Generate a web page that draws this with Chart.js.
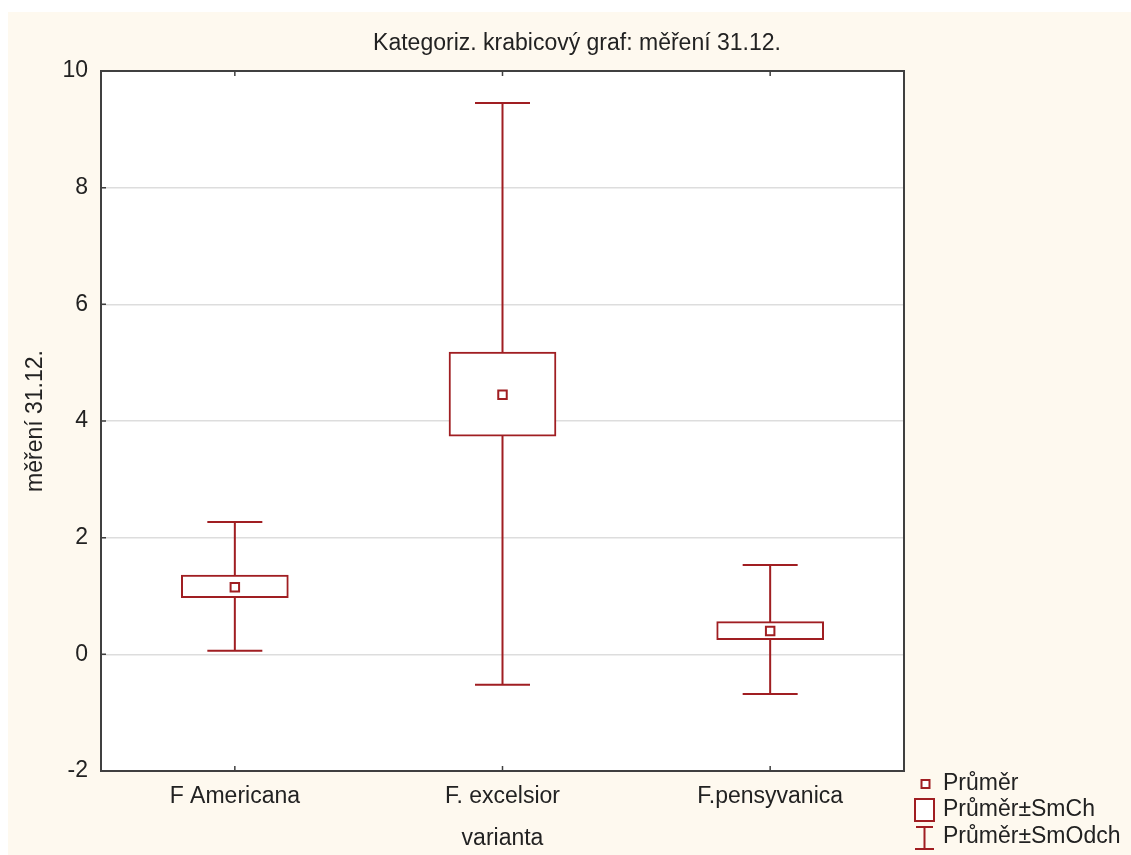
<!DOCTYPE html>
<html><head><meta charset="utf-8">
<script src="https://cdn.jsdelivr.net/npm/chart.js@4/dist/chart.umd.min.js"></script>
<style>html,body{margin:0;padding:0;background:#fff;}#wrap{width:1131px;height:855px;}</style>
</head><body><div id="wrap"><canvas id="c" width="1131" height="855"></canvas></div>
<script>
const categories = ['F Americana', 'F. excelsior', 'F.pensyvanica'];
const means = [1.15, 4.45, 0.40];
const boxLow = [0.97, 3.74, 0.25];
const boxHigh = [1.36, 5.18, 0.56];
const whiskerLow = [0.06, -0.52, -0.68];
const whiskerHigh = [2.27, 9.45, 1.53];
const yMin = -2, yMax = 10, yStep = 2;
const titleText = 'Kategoriz. krabicový graf: měření 31.12.';
const xTitle = 'varianta';
const yTitle = 'měření 31.12.';
const legendLabels = ['Průměr', 'Průměr±SmCh', 'Průměr±SmOdch'];

const RED = '#a01e22';
const TXT = '#222222';
const FONT = "'Liberation Sans', Arial, sans-serif";

const deco = {
  id: 'deco',
  beforeDraw(chart) {
    const ctx = chart.ctx, a = chart.chartArea;
    ctx.save();
    ctx.fillStyle = '#ffffff';
    ctx.fillRect(0, 0, chart.width, chart.height);
    ctx.fillStyle = '#fef9ef';
    ctx.fillRect(8, 12, chart.width - 8, chart.height - 12);
    ctx.fillStyle = '#ffffff';
    ctx.fillRect(a.left, a.top, a.right - a.left, a.bottom - a.top);
    ctx.restore();
  },
  beforeDatasetsDraw(chart) {
    const ctx = chart.ctx, xs = chart.scales.x, ys = chart.scales.y;
    ctx.save();
    ctx.strokeStyle = RED;
    ctx.lineWidth = 2;
    categories.forEach((c, i) => {
      const x = xs.getPixelForValue(i);
      const yt = ys.getPixelForValue(whiskerHigh[i]);
      const yb = ys.getPixelForValue(whiskerLow[i]);
      ctx.beginPath();
      ctx.moveTo(x, yt); ctx.lineTo(x, yb);
      ctx.moveTo(x - 27.5, yt); ctx.lineTo(x + 27.5, yt);
      ctx.moveTo(x - 27.5, yb); ctx.lineTo(x + 27.5, yb);
      ctx.stroke();
    });
    ctx.restore();
  },
  afterDraw(chart) {
    const ctx = chart.ctx, a = chart.chartArea, xs = chart.scales.x, ys = chart.scales.y;
    ctx.save();
    // frame
    ctx.strokeStyle = '#404040';
    ctx.lineWidth = 2;
    ctx.strokeRect(a.left, a.top, a.right - a.left, a.bottom - a.top);
    // inward ticks
    ctx.lineWidth = 1.5;
    ctx.beginPath();
    for (let v = yMin; v <= yMax; v += yStep) {
      const y = ys.getPixelForValue(v);
      ctx.moveTo(a.left, y); ctx.lineTo(a.left + 5, y);
    }
    categories.forEach((c, i) => {
      const x = xs.getPixelForValue(i);
      ctx.moveTo(x, a.bottom); ctx.lineTo(x, a.bottom - 5);
      ctx.moveTo(x, a.top); ctx.lineTo(x, a.top + 5);
    });
    ctx.stroke();
    // title
    ctx.fillStyle = TXT;
    ctx.font = '23px ' + FONT;
    ctx.textAlign = 'center';
    ctx.textBaseline = 'middle';
    ctx.fillText(titleText, 577, 44);
    // legend
    ctx.textAlign = 'left';
    ctx.strokeStyle = RED;
    ctx.lineWidth = 2;
    ctx.fillStyle = '#ffffff';
    ctx.fillRect(921.5, 780, 8, 8);
    ctx.strokeRect(921.5, 780, 8, 8);
    ctx.fillRect(915, 799, 19, 22);
    ctx.strokeRect(915, 799, 19, 22);
    ctx.beginPath();
    ctx.moveTo(916, 827); ctx.lineTo(933, 827);
    ctx.moveTo(924.5, 827); ctx.lineTo(924.5, 849);
    ctx.moveTo(915, 849); ctx.lineTo(934, 849);
    ctx.stroke();
    ctx.fillStyle = TXT;
    ctx.fillText(legendLabels[0], 943, 784);
    ctx.fillText(legendLabels[1], 943, 810);
    ctx.fillText(legendLabels[2], 943, 837);
    ctx.restore();
  }
};

new Chart(document.getElementById('c'), {
  type: 'bar',
  data: {
    labels: categories,
    datasets: [
      {
        type: 'line',
        label: legendLabels[0],
        data: means,
        showLine: false,
        pointStyle: 'rect',
        pointRadius: 6,
        pointBorderWidth: 2,
        pointBackgroundColor: '#ffffff',
        pointBorderColor: RED,
        borderColor: RED,
        order: 0
      },
      {
        type: 'bar',
        label: legendLabels[1],
        data: categories.map((c, i) => [boxLow[i], boxHigh[i]]),
        backgroundColor: '#ffffff',
        borderColor: RED,
        borderWidth: 2,
        borderSkipped: false,
        barThickness: 107,
        order: 1
      }
    ]
  },
  options: {
    responsive: false,
    animation: false,
    devicePixelRatio: 1,
    layout: { padding: { top: 71, right: 227, bottom: 0, left: 0 } },
    plugins: { legend: { display: false }, title: { display: false }, tooltip: { enabled: false } },
    scales: {
      x: {
        type: 'category',
        offset: true,
        grid: { display: false, drawTicks: false },
        border: { display: false },
        ticks: { font: { size: 23, family: FONT }, color: TXT, padding: 12, maxRotation: 0 },
        title: { display: true, text: xTitle, font: { size: 23, family: FONT }, color: TXT, padding: { top: 0, bottom: 3 } },
        afterFit(s) { s.height = 84; }
      },
      y: {
        type: 'linear',
        min: yMin,
        max: yMax,
        grid: { color: '#dddddd', lineWidth: 1.5, drawTicks: false },
        border: { display: false },
        ticks: { stepSize: yStep, font: { size: 23, family: FONT }, color: TXT, padding: 13 },
        title: { display: true, text: yTitle, font: { size: 23, family: FONT }, color: TXT, padding: { top: 22, bottom: 0 } },
        afterFit(s) { s.width = 101; }
      }
    }
  },
  plugins: [deco]
});
</script>
</body></html>
